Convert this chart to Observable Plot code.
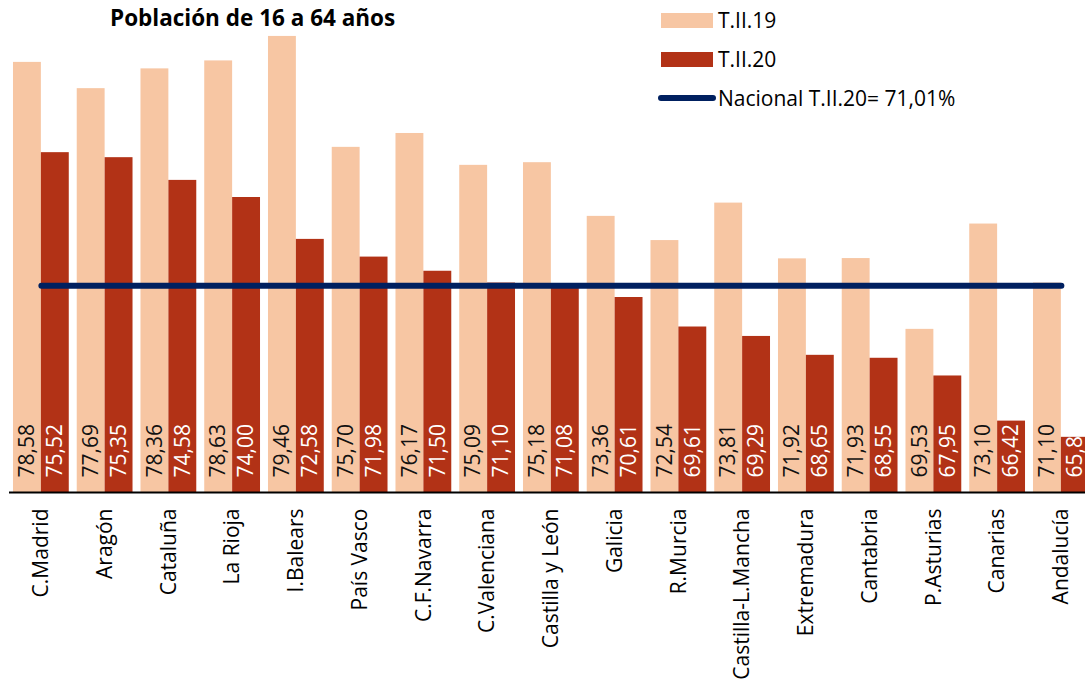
<!DOCTYPE html>
<html>
<head>
<meta charset="utf-8">
<script src="https://cdn.jsdelivr.net/npm/d3@7"></script>
<script src="https://cdn.jsdelivr.net/npm/@observablehq/plot@0.6"></script>
<style>
  html, body { margin: 0; padding: 0; background: #fff; overflow: hidden; }
  body { font-family: "Open Sans", sans-serif; width: 1085px; height: 686px; position: relative; }
  #chart { position: absolute; left: 0; top: 0; }
  .title { position: absolute; left: 110px; top: 2px; font-weight: bold; font-size: 22.5px; color: #000; white-space: nowrap; }
  .leg { position: absolute; font-size: 21px; color: #000; white-space: nowrap; display: flex; align-items: center; }
  .sw { width: 52px; height: 15px; margin-right: 5px; }
  .ln { width: 58px; height: 6px; border-radius: 3px; margin-right: 2px; margin-left: -3px; }
</style>
</head>
<body>
<div id="chart"></div>
<div class="title">Población de 16 a 64 años</div>
<div id="legend"></div>
<script>
const categories = ["C.Madrid", "Aragón", "Cataluña", "La Rioja", "I.Balears", "País Vasco", "C.F.Navarra", "C.Valenciana", "Castilla y León", "Galicia", "R.Murcia", "Castilla-L.Mancha", "Extremadura", "Cantabria", "P.Asturias", "Canarias", "Andalucía"];
const t19 = [78.58, 77.69, 78.36, 78.63, 79.46, 75.70, 76.17, 75.09, 75.18, 73.36, 72.54, 73.81, 71.92, 71.93, 69.53, 73.10, 71.10];
const t20 = [75.52, 75.35, 74.58, 74.00, 72.58, 71.98, 71.50, 71.10, 71.08, 70.61, 69.61, 69.29, 68.65, 68.55, 67.95, 66.42, 65.87];
const nacional = 71.01;
const seriesNames = ["T.II.19", "T.II.20", "Nacional T.II.20= 71,01%"];
const colors = ["#F7C6A3", "#B23216", "#002060"];
const yBase = 64, yTop = 80;

const data = categories.map((c, i) => ({region: c, t19: t19[i], t20: t20[i]}));
const fmt = v => v.toFixed(2).replace(".", ",");

const step = 63.75;
const chart = Plot.plot({
  width: 1085,
  height: 686,
  marginTop: 20,
  marginBottom: 194,
  marginLeft: 9,
  marginRight: 0,
  style: {fontFamily: "Open Sans, sans-serif", background: "white"},
  x: {domain: categories, range: [9, 9 + categories.length * step], round: false, paddingInner: 0.125, paddingOuter: 0.0625, label: null},
  y: {domain: [yBase, yTop], axis: null},
  marks: [
    Plot.barY(data, {x: "region", y1: yBase, y2: "t19", fill: colors[0], insetRight: 27.9, clip: true}),
    Plot.barY(data, {x: "region", y1: yBase, y2: "t20", fill: colors[1], insetLeft: 27.9, clip: true}),
    Plot.text(data, {x: "region", y: yBase, text: d => fmt(d.t19), rotate: -90, textAnchor: "start", dx: -14, dy: -15, fontSize: 21, fill: "#111", clip: true}),
    Plot.text(data, {x: "region", y: yBase, text: d => fmt(d.t20), rotate: -90, textAnchor: "start", dx: 14, dy: -15, fontSize: 21, fill: "#fff", clip: true}),
    Plot.ruleY([yBase], {stroke: "#000", strokeWidth: 2}),
    Plot.lineY(categories, {x: d => d, y: () => nacional, stroke: colors[2], strokeWidth: 6, strokeLinecap: "round"}),
    Plot.axisX({tickRotate: -90, tickSize: 0, tickPadding: 16, fontSize: 21, fill: "#000", label: null})
  ]
});
document.getElementById("chart").appendChild(chart);

const legend = document.getElementById("legend");
const legPos = [[661, 6], [661, 45], [661, 84]];
seriesNames.forEach((name, i) => {
  const row = document.createElement("div");
  row.className = "leg";
  row.style.left = legPos[i][0] + "px";
  row.style.top = legPos[i][1] + "px";
  const sw = document.createElement("div");
  sw.className = i < 2 ? "sw" : "ln";
  sw.style.background = colors[i];
  row.appendChild(sw);
  const t = document.createElement("span");
  t.textContent = name;
  row.appendChild(t);
  legend.appendChild(row);
});
</script>
</body>
</html>
